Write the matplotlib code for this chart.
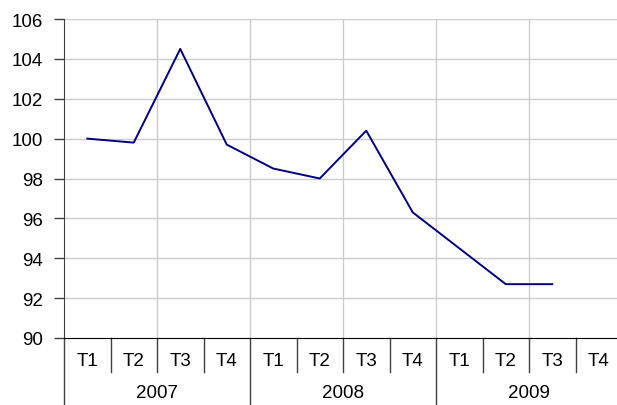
import matplotlib
matplotlib.use("Agg")
import matplotlib.pyplot as plt
import matplotlib.transforms as mtransforms
import numpy as np

# données
years = ["2007", "2008", "2009"]
quarters = ["T1", "T2", "T3", "T4"]
values = [100.0, 99.8, 104.5, 99.7,
          98.5, 98.0, 100.4, 96.3,
          94.5, 92.7, 92.7, np.nan]
y_ticks = [90, 92, 94, 96, 98, 100, 102, 104, 106]

plt.rcParams['font.family'] = ['Liberation Sans', 'DejaVu Sans']

W, H = 617, 406
fig = plt.figure(figsize=(W / 100, H / 100), dpi=100)
left, right, top, bottom = 64, 622, 20, 339
ax = fig.add_axes([left / W, (H - bottom) / H, (right - left) / W, (bottom - top) / H])

n = len(values)
x = np.arange(n) + 0.5
ax.plot(x, values, color='#000080', lw=1.4, zorder=3)

ax.set_xlim(0, n)
ax.set_ylim(90, 106)
ax.set_yticks(y_ticks)
ax.set_yticklabels([str(t) for t in y_ticks], fontsize=13.5)
ax.set_xticks([])

# grille
for t in y_ticks[1:]:
    ax.axhline(t, color='#cccccc', lw=1, zorder=1)
for i in range(2, n, 2):
    ax.axvline(i, color='#cccccc', lw=1, zorder=1)

for s in ['top', 'right']:
    ax.spines[s].set_visible(False)
ax.spines['left'].set_color('#404040')
ax.spines['bottom'].set_color('black')
ax.tick_params(axis='y', length=7, width=1, color='#404040', pad=8)

# étiquettes à deux niveaux sous l'axe
trans = mtransforms.blended_transform_factory(ax.transData, ax.transAxes)
span = bottom - top
row1 = (bottom - 373) / span
row2 = (bottom - 406) / span
for i in range(n + 1):
    yb = row2 if i % 4 == 0 else row1
    ax.plot([i, i], [0, yb], color='#404040', lw=1, transform=trans, clip_on=False)
for i in range(n):
    ax.text(i + 0.5, (bottom - 362) / span, quarters[i % 4], transform=trans,
            ha='center', va='center', fontsize=13.5)
for j, yr in enumerate(years):
    ax.text(j * 4 + 2, (bottom - 394) / span, yr, transform=trans,
            ha='center', va='center', fontsize=13.5)

fig.savefig("out.png", dpi=100)
